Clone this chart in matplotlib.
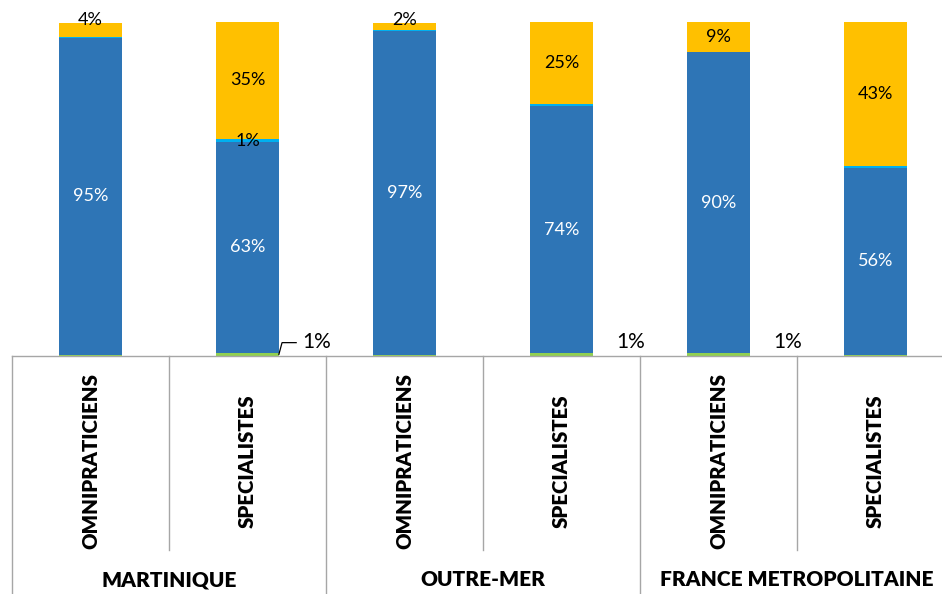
import matplotlib
matplotlib.use("Agg")
import matplotlib.pyplot as plt
import matplotlib.transforms as mtransforms
import numpy as np

plt.rcParams['font.family'] = ['Lato', 'DejaVu Sans']

groups = ["MARTINIQUE", "OUTRE-MER", "FRANCE METROPOLITAINE"]
subcats = ["OMNIPRATICIENS", "SPECIALISTES"]
green = [0.3, 1.0, 0.4, 0.8, 0.9, 0.4]
blue = [95, 63, 97, 74, 90, 56]
cyan = [0.3, 1.0, 0.3, 0.5, 0.1, 0.5]
yellow = [4, 35, 2, 25, 9, 43]

c_green = "#92D050"
c_blue = "#2E75B6"
c_cyan = "#00B0F0"
c_yellow = "#FFC000"
grid_c = "#A6A6A6"

W, H = 942, 594
fig = plt.figure(figsize=(W / 100, H / 100), dpi=100)
left_px, right_px, top_px, bot_px = 12, 954, 22, 356
ax = fig.add_axes([left_px / W, 1 - bot_px / H, (right_px - left_px) / W, (bot_px - top_px) / H])

n = len(blue)
x = np.arange(n)
bw = 0.4
g = np.array(green); b = np.array(blue); c = np.array(cyan); y = np.array(yellow)
ax.bar(x, g, bw, color=c_green, linewidth=0)
ax.bar(x, b, bw, bottom=g, color=c_blue, linewidth=0)
ax.bar(x, c, bw, bottom=g + b, color=c_cyan, linewidth=0)
ax.bar(x, y, bw, bottom=g + b + c, color=c_yellow, linewidth=0)

ax.set_xlim(-0.5, n - 0.5)
ax.set_ylim(0, 100)
for s in ["left", "right", "top"]:
    ax.spines[s].set_visible(False)
ax.spines["bottom"].set_color(grid_c)
ax.spines["bottom"].set_linewidth(1)
ax.set_xticks([]); ax.set_yticks([])

fs = 13
for i in range(n):
    # blue labels
    ax.text(x[i], g[i] + b[i] / 2, f"{b[i]:.0f}%", ha="center", va="center", color="white", fontsize=fs)
    # yellow labels
    ybot = g[i] + b[i] + c[i]
    ymid = ybot + y[i] / 2
    if y[i] < 5:
        ymid = 100.6
    ax.text(x[i], ymid, f"{y[i]:.0f}%", ha="center", va="center", color="black", fontsize=fs, clip_on=False)
    # cyan labels
    if c[i] >= 0.75:
        ax.text(x[i], g[i] + b[i] + c[i] / 2, f"{c[i]:.0f}%", ha="center", va="center", color="black", fontsize=fs)
    # green labels
    if g[i] >= 0.75:
        lx = x[i] + bw / 2 + 0.24
        ly = 4.3
        ax.text(lx, ly, f"{g[i]:.0f}%", ha="center", va="center", color="black", fontsize=15)
        if i == 1:
            ax.plot([x[i] + bw / 2, x[i] + bw / 2 + 0.02, x[i] + bw / 2 + 0.11],
                    [g[i] / 2, 4.0, 4.0], color="black", lw=0.9, solid_joinstyle="miter")

# multi-level category axis
trans = mtransforms.blended_transform_factory(ax.transData, ax.transAxes)
axh = bot_px - top_px
inner_bottom = -(550 - bot_px) / axh
outer_bottom = -(600 - bot_px) / axh
for k in range(n + 1):
    xb = k - 0.5
    yb = outer_bottom if k % 2 == 0 else inner_bottom
    ax.plot([xb, xb], [0, yb], transform=trans, color=grid_c, lw=1, clip_on=False)

sub_y = -(461 - bot_px) / axh
for i in range(n):
    ax.text(x[i], sub_y, subcats[i % 2], rotation=90, ha="center", va="center",
            fontsize=14.7, fontweight="heavy", transform=trans, clip_on=False)

grp_y = -(580 - bot_px) / axh
for j, gname in enumerate(groups):
    ax.text(2 * j + 0.5, grp_y, gname, ha="center", va="center", fontsize=15,
            fontweight="heavy", transform=trans, clip_on=False)

fig.savefig("out.png", dpi=100)
